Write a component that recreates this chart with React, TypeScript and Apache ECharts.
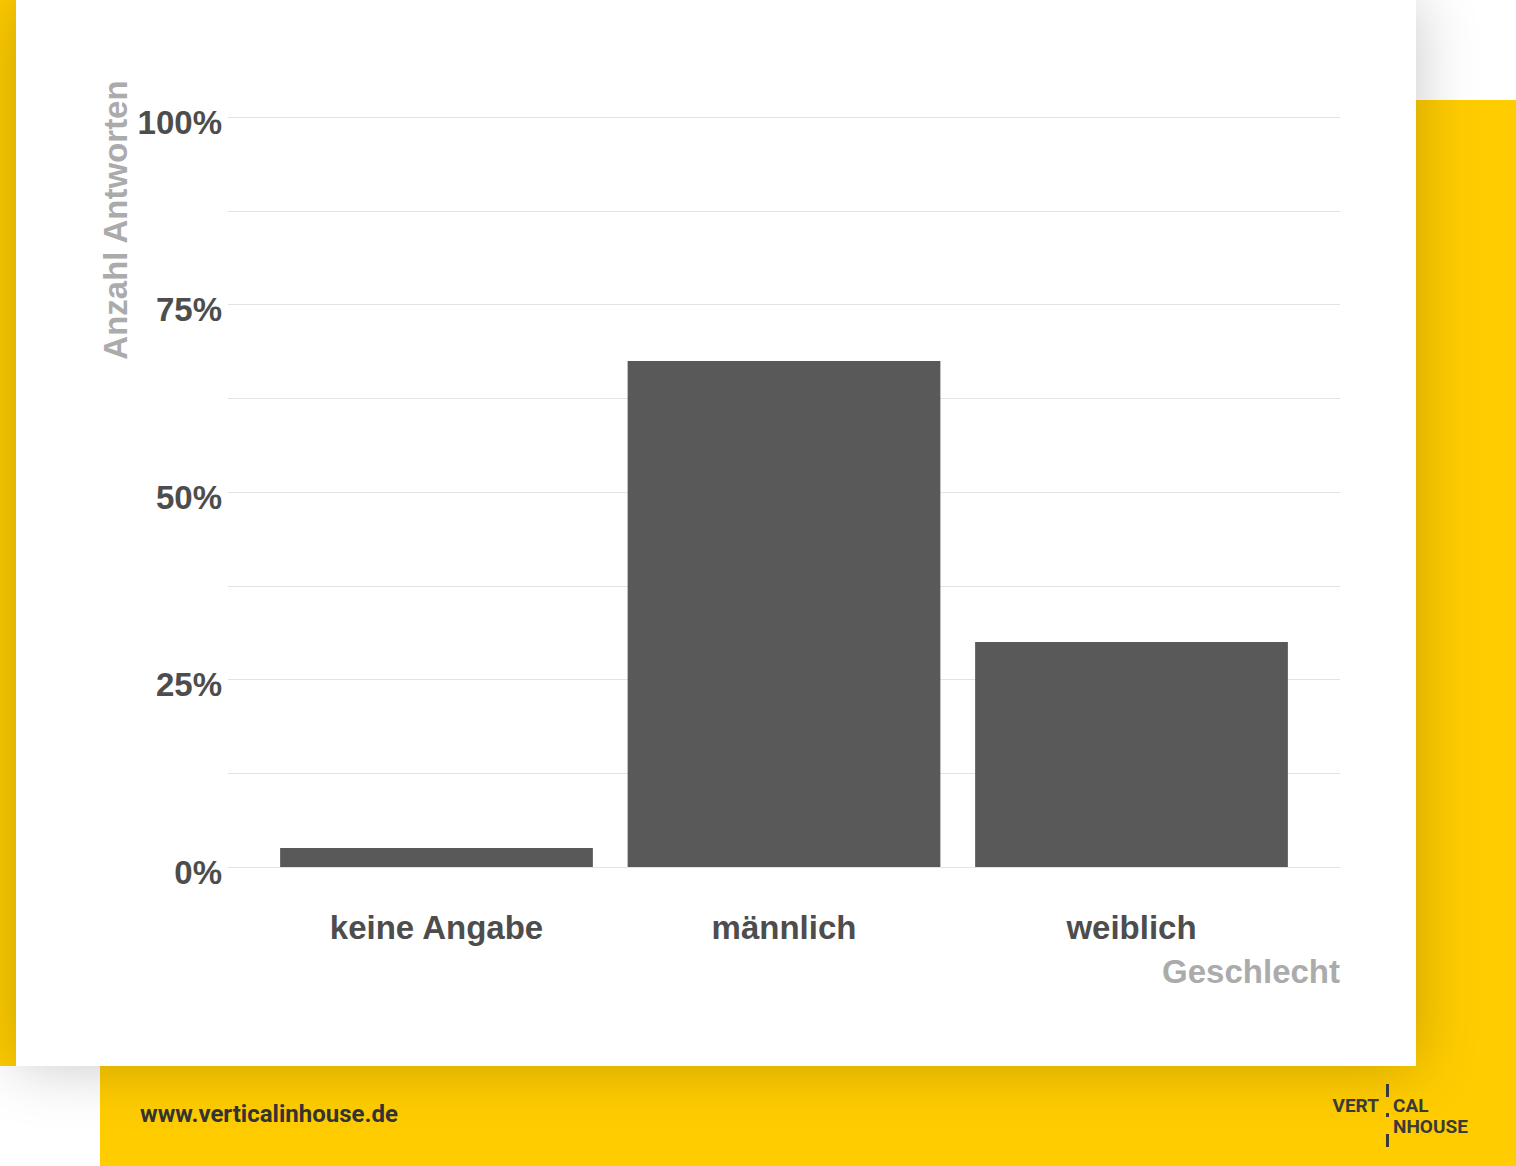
import React, { useEffect, useRef } from "react";
import * as echarts from "echarts";

const categories = ["keine Angabe", "männlich", "weiblich"];
const shares = [2.53, 67.47, 30.0];
const yTicks = [0, 25, 50, 75, 100];
const xTitle = "Geschlecht";
const yTitle = "Anzahl Antworten";
const footerUrl = "www.verticalinhouse.de";

const YELLOW = "#FFCC00";
const TEXT_DARK = "#4d4d4d";
const TEXT_GRAY = "#ababab";

export default function App() {
  const ref = useRef<HTMLDivElement>(null);
  useEffect(() => {
    document.body.style.margin = "0";
    const chart = echarts.init(ref.current!, null, { renderer: "svg" });
    const logoFont = "bold 19px Roboto, 'Open Sans', sans-serif";
    const logoText = (text: string, x: number, y: number, align: string) => ({
      type: "text", z: 10, x, y,
      style: { text, fill: "#3a3a3a", font: logoFont, align, verticalAlign: "middle", lineHeight: 18 },
    });
    chart.setOption({
      animation: false,
      backgroundColor: "#ffffff",
      graphic: {
        elements: [
          { type: "rect", z: -20, shape: { x: 0, y: 0, width: 16, height: 1066 }, style: { fill: YELLOW } },
          { type: "rect", z: -20, shape: { x: 100, y: 100, width: 1416, height: 1066 }, style: { fill: YELLOW } },
          {
            type: "rect", z: -15, shape: { x: 16, y: 0, width: 1400, height: 1066 },
            style: { fill: "#ffffff", shadowBlur: 60, shadowColor: "rgba(0,0,0,0.22)", shadowOffsetX: 0, shadowOffsetY: 0 },
          },
          {
            type: "text", z: 10, x: 115, y: 220, rotation: Math.PI / 2,
            style: { text: yTitle, fill: TEXT_GRAY, font: "bold 33px 'Liberation Sans', Arial, sans-serif", align: "center", verticalAlign: "middle" },
          },
          {
            type: "text", z: 10, x: 1340, y: 971,
            style: { text: xTitle, fill: TEXT_GRAY, font: "bold 33px 'Liberation Sans', Arial, sans-serif", align: "right", verticalAlign: "middle" },
          },
          {
            type: "text", z: 10, x: 140, y: 1114,
            style: { text: footerUrl, fill: "#333333", font: "bold 24px Roboto, sans-serif", align: "left", verticalAlign: "middle" },
          },
          logoText("VERT", 1379, 1105, "right"),
          logoText("CAL", 1393, 1105, "left"),
          logoText("NHOUSE", 1393, 1126, "left"),
          { type: "rect", z: 10, shape: { x: 1386, y: 1084, width: 3, height: 13 }, style: { fill: "#3a3a3a" } },
          { type: "rect", z: 10, shape: { x: 1386, y: 1113, width: 3, height: 4 }, style: { fill: "#3a3a3a" } },
          { type: "rect", z: 10, shape: { x: 1386, y: 1134, width: 3, height: 13 }, style: { fill: "#3a3a3a" } },
        ],
      },
      grid: [
        { left: 228, right: 176, top: 117, bottom: 299, containLabel: false },
        { left: 262.75, right: 210.75, top: 117, bottom: 299, containLabel: false },
      ],
      xAxis: [
        { type: "value", gridIndex: 0, show: false, min: 0, max: 1 },
        {
          type: "category", gridIndex: 1, data: categories,
          axisLine: { show: false }, axisTick: { show: false },
          axisLabel: { margin: 44, color: TEXT_DARK, fontSize: 33, fontWeight: "bold", fontFamily: "'Liberation Sans', Arial, sans-serif" },
        },
      ],
      yAxis: [
        {
          type: "value", gridIndex: 0, min: 0, max: 100, interval: 12.5,
          axisLine: { show: false }, axisTick: { show: false },
          splitLine: { show: true, lineStyle: { color: "#e3e3e3", width: 1 } },
          axisLabel: {
            margin: 6, color: TEXT_DARK, fontSize: 33, fontWeight: "bold",
            fontFamily: "'Liberation Sans', Arial, sans-serif", lineHeight: 10,
            formatter: (v: number) => (yTicks.indexOf(v) >= 0 ? "\n" + v + "%" : ""),
          },
        },
        { type: "value", gridIndex: 1, min: 0, max: 100, show: false },
      ],
      series: [
        {
          type: "bar", xAxisIndex: 1, yAxisIndex: 1, data: shares, barWidth: "90%",
          itemStyle: { color: "#595959" }, z: 5,
        },
      ],
    });
    return () => chart.dispose();
  }, []);
  return <div ref={ref} style={{ position: "fixed", left: 0, top: 0, width: 1516, height: 1166 }} />;
}
